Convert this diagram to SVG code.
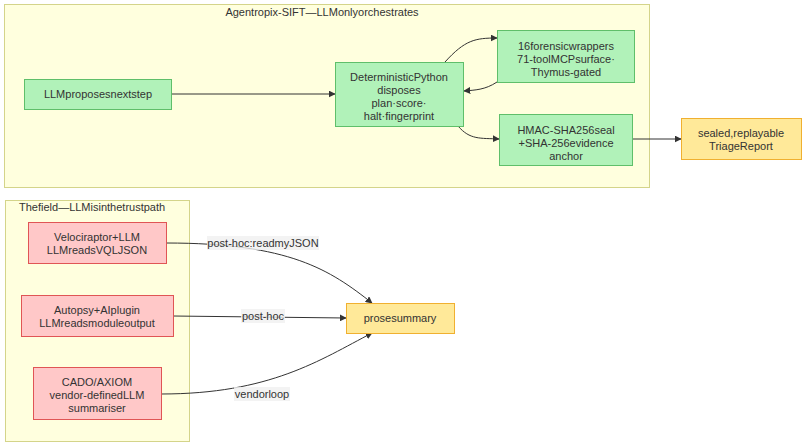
<svg xmlns="http://www.w3.org/2000/svg" width="806" height="447" viewBox="0 0 806 447">
<style>
text{font-family:"Liberation Sans",Arial,sans-serif;font-size:11px;fill:#333;text-anchor:middle}
.cl{fill:#ffffde;stroke:#d4d48a;stroke-width:1}
.g{fill:#b1f2b9;stroke:#5fbf6a;stroke-width:1}
.r{fill:#ffc8c8;stroke:#e05555;stroke-width:1}
.y{fill:#ffe999;stroke:#f0b030;stroke-width:1}
.e{fill:none;stroke:#333;stroke-width:1;marker-end:url(#a)}
.lb{fill:#f0f0f0;opacity:0.8}
</style>
<defs><marker id="a" viewBox="0 0 10 10" refX="9" refY="5" markerWidth="7" markerHeight="7" orient="auto"><path d="M0,0L10,5L0,10z" fill="#333"/></marker></defs>
<g id="cluster-top"><rect class="cl" x="4.5" y="4.5" width="645" height="183"/><text x="322" y="16">Agentropix-SIFT—LLMonlyorchestrates</text></g>
<g id="cluster-bottom"><rect class="cl" x="5.5" y="200.5" width="184" height="241"/><text x="19" y="211" style="text-anchor:start">Thefield—LLMisinthetrustpath</text></g>
<g id="edges">
<path class="e" d="M171,94L335,94"/>
<path class="e" d="M445,62C465,40 475,38 497,38"/>
<path class="e" d="M497,82C485,90 475,90 464,91"/>
<path class="e" d="M458,126C470,140 480,138 499,139"/>
<path class="e" d="M632,139L681,139"/>
<path class="e" d="M166,243C290,243 330,270 372,303"/>
<path class="e" d="M173,316L346,318"/>
<path class="e" d="M161,394C270,394 320,360 372,333"/>
<rect class="lb" x="207" y="236" width="112" height="14"/><text x="263" y="247">post-hoc:readmyJSON</text>
<rect class="lb" x="241" y="309" width="44" height="14"/><text x="263" y="320">post-hoc</text>
<rect class="lb" x="234" y="387" width="56" height="14"/><text x="262" y="398">vendorloop</text>
</g>
<g id="n-llm"><rect class="g" x="24.5" y="79.5" width="147" height="30"/><text x="98" y="98">LLMproposesnextstep</text></g>
<g id="n-det"><rect class="g" x="335.5" y="62.5" width="128" height="64"/><text x="399" y="81">DeterministicPython</text><text x="399" y="94">disposes</text><text x="399" y="107">plan·score·</text><text x="399" y="120">halt·fingerprint</text></g>
<g id="n-wrap"><rect class="g" x="497.5" y="30.5" width="137" height="52"/><text x="566" y="50">16forensicwrappers</text><text x="566" y="63">71-toolMCPsurface·</text><text x="566" y="76">Thymus-gated</text></g>
<g id="n-hmac"><rect class="g" x="499.5" y="114.5" width="133" height="51"/><text x="566" y="134">HMAC-SHA256seal</text><text x="566" y="147">+SHA-256evidence</text><text x="566" y="160">anchor</text></g>
<g id="n-sealed"><rect class="y" x="681.5" y="118.5" width="120" height="41"/><text x="741" y="137">sealed,replayable</text><text x="741" y="150">TriageReport</text></g>
<g id="n-velo"><rect class="r" x="28.5" y="222.5" width="138" height="41"/><text x="97" y="241">Velociraptor+LLM</text><text x="97" y="254">LLMreadsVQLJSON</text></g>
<g id="n-autopsy"><rect class="r" x="21.5" y="295.5" width="152" height="41"/><text x="97" y="314">Autopsy+AIplugin</text><text x="97" y="327">LLMreadsmoduleoutput</text></g>
<g id="n-cado"><rect class="r" x="33.5" y="367.5" width="128" height="52"/><text x="97" y="386">CADO/AXIOM</text><text x="97" y="399">vendor-definedLLM</text><text x="97" y="412">summariser</text></g>
<g id="n-prose"><rect class="y" x="346.5" y="303.5" width="108" height="30"/><text x="400" y="322">prosesummary</text></g>
</svg>
